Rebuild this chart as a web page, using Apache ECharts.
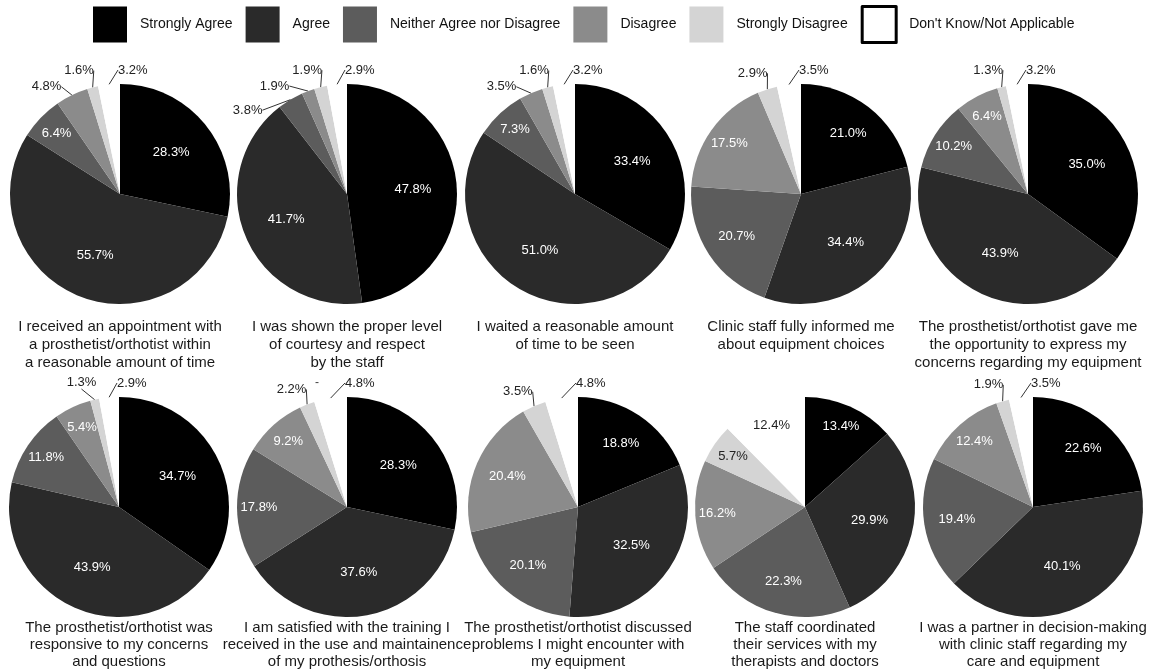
<!DOCTYPE html>
<html><head><meta charset="utf-8">
<script src="https://cdn.jsdelivr.net/npm/echarts@6/dist/echarts.min.js"></script>
<style>html,body{margin:0;padding:0;background:#fff}#c{width:1161px;height:671px}</style>
</head><body><div id="c"></div>
<script>
// ---- data ----
const categories = ['Strongly Agree','Agree','Neither Agree nor Disagree','Disagree','Strongly Disagree',"Don't Know/Not Applicable"];
const q1 = [28.3, 55.7, 6.4, 4.8, 1.6, 3.2];
const q2 = [47.8, 41.7, 3.8, 1.9, 1.9, 2.9];
const q3 = [33.4, 51.0, 7.3, 3.5, 1.6, 3.2];
const q4 = [21.0, 34.4, 20.7, 17.5, 2.9, 3.5];
const q5 = [35.0, 43.9, 10.2, 6.4, 1.3, 3.2];
const q6 = [34.7, 43.9, 11.8, 5.4, 1.3, 2.9];
const q7 = [28.3, 37.6, 17.8, 9.2, 2.2, 4.8];
const q8 = [18.8, 32.5, 20.1, 20.4, 3.5, 4.8];
const q9 = [13.4, 29.9, 22.3, 16.2, 5.7, 12.4];
const q10 = [22.6, 40.1, 19.4, 12.4, 1.9, 3.5];
const questionValues = [q1,q2,q3,q4,q5,q6,q7,q8,q9,q10];
const questionTitles = [
  'I received an appointment with\na prosthetist/orthotist within\na reasonable amount of time',
  'I was shown the proper level\nof courtesy and respect\nby the staff',
  'I waited a reasonable amount\nof time to be seen',
  'Clinic staff fully informed me\nabout equipment choices',
  'The prosthetist/orthotist gave me\nthe opportunity to express my\nconcerns regarding my equipment',
  'The prosthetist/orthotist was\nresponsive to my concerns\nand questions',
  'I am satisfied with the training I\nreceived in the use and maintainence\nof my prothesis/orthosis',
  'The prosthetist/orthotist discussed\nproblems I might encounter with\nmy equipment',
  'The staff coordinated\ntheir services with my\ntherapists and doctors',
  'I was a partner in decision-making\nwith clinic staff regarding my\ncare and equipment'
];

// ---- style / layout ----
const colors = ['#000000','#2a2a2a','#5c5c5c','#8b8b8b','#d4d4d4','#ffffff'];
const FONT = '"Liberation Sans", Arial, sans-serif';
const R = 110;
const centersX = [[120,347,575,801,1028],[119,347,578,805,1033]];
const centersY = [194, 507];
const titleTop = [318, 619];
const titleLH = [18, 17];

function insideFrac(v){ return v >= 25 ? 0.6 : (v >= 18 ? 0.7 : 0.8); }

// placement of outside (small-slice) labels, spread counter-clockwise from the top
function outsidePlacement(vals){
  const total = vals.reduce((a,b)=>a+b,0);
  const res = {};
  let next = null;
  for (let k = vals.length - 1; k >= 0; k--) {
    if (vals[k] >= 5) continue;
    if (k === vals.length - 1) { res[k] = {top: true}; next = 3; continue; }
    let before = 0;
    for (let j = 0; j < k; j++) before += vals[j];
    let a = (before + vals[k]/2) / total * 360 - 360 - 4;
    if (next !== null) a = Math.min(a, next - 16);
    res[k] = {angle: a};
    next = a;
  }
  return res;
}

const series = [];
const titles = [];
questionValues.forEach(function(vals, i){
  const row = Math.floor(i/5), col = i%5;
  const cx = centersX[row][col], cy = centersY[row];
  const total = vals.reduce((a,b)=>a+b,0);
  const outs = outsidePlacement(vals);
  const data = vals.map(function(v, k){
    const outside = v < 5;
    return {
      name: categories[k], value: v,
      itemStyle: {color: colors[k]},
      label: {
        position: outside ? 'outside' : 'inside',
        color: (outside || k >= 4) ? '#222' : '#fff'
      },
      labelLine: {show: outside}
    };
  });
  series.push({
    type: 'pie',
    radius: [0, R],
    center: [cx, cy],
    startAngle: 90,
    clockwise: true,
    animation: false,
    silent: true,
    avoidLabelOverlap: false,
    minShowLabelAngle: 0,
    itemStyle: {borderWidth: 0},
    label: {
      show: true,
      formatter: function(p){ return p.value.toFixed(1) + '%'; },
      fontSize: 13, fontFamily: FONT, overflow: 'none'
    },
    labelLine: {length: 14, length2: 0, lineStyle: {color: '#333', width: 1}},
    labelLayout: function(p){
      const k = p.dataIndex;
      const v = vals[k];
      if (v < 5) {
        const o = outs[k];
        if (o.top) return {x: cx - 2, y: cy - 124, align: 'left', verticalAlign: 'middle'};
        const a = o.angle * Math.PI / 180;
        return {x: cx + Math.sin(a) * 130, y: cy - Math.cos(a) * 130, align: 'center', verticalAlign: 'middle'};
      }
      let before = 0;
      for (let j = 0; j < k; j++) before += vals[j];
      const a = (before + v/2) / total * Math.PI * 2;
      const f = insideFrac(v);
      return {
        x: cx + Math.sin(a) * f * R,
        y: cy - Math.cos(a) * f * R,
        align: 'center', verticalAlign: 'middle'
      };
    },
    data: data
  });
  titles.push({
    text: questionTitles[i],
    left: cx, top: titleTop[row],
    textAlign: 'center',
    padding: 0,
    textStyle: {fontSize: 15, fontWeight: 'normal', color: '#1a1a1a', fontFamily: FONT, lineHeight: titleLH[row]}
  });
});

const chart = echarts.init(document.getElementById('c'));
chart.setOption({
  backgroundColor: '#fff',
  title: titles,
  legend: {
    left: 93, top: 5, padding: 0,
    itemWidth: 34, itemHeight: 36, itemGap: 13,
    icon: 'rect',
    selectedMode: false,
    textStyle: {fontSize: 14, color: '#111', fontFamily: FONT, padding: [0,0,0,8]},
    data: categories.map(function(c, k){
      return k === 5
        ? {name: c, itemStyle: {color: '#fff', borderColor: '#000', borderWidth: 3}}
        : {name: c, itemStyle: {color: colors[k], borderWidth: 0}};
    })
  },
  graphic: [{type: 'text', left: 315, top: 377, style: {text: '-', fontSize: 12, fill: '#444', fontFamily: FONT}}],
  series: series
});
</script>
</body></html>
